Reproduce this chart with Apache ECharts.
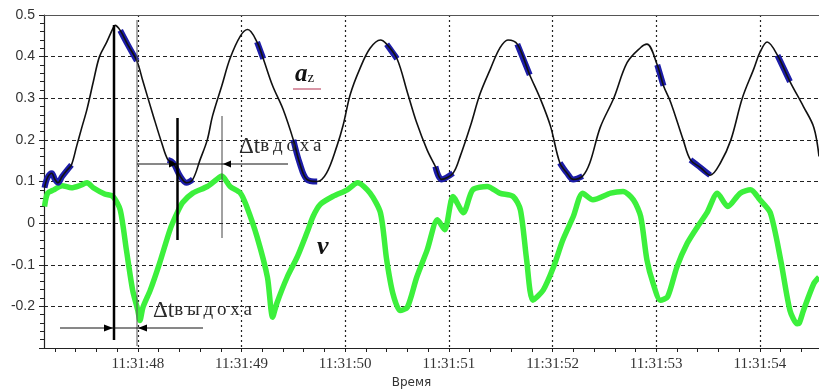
<!DOCTYPE html>
<html>
<head>
<meta charset="utf-8">
<script src="https://cdn.jsdelivr.net/npm/echarts@6/dist/echarts.min.js"></script>
<style>
html, body {margin: 0; padding: 0; background: #fff;}
#chart {width: 819px; height: 390px;}
</style>
</head>
<body>
<div id="chart"></div>
<script>
// time is in seconds of 11:31:xx
var secondTicks = [48, 49, 50, 51, 52, 53, 54];
var minorTicks = [47.2, 47.4, 47.6, 47.8, 48, 48.2, 48.4, 48.6, 48.8, 49, 49.2, 49.4, 49.6, 49.8,
    50, 50.2, 50.4, 50.6, 50.8, 51, 51.2, 51.4, 51.6, 51.8, 52, 52.2, 52.4, 52.6, 52.8,
    53, 53.2, 53.4, 53.6, 53.8, 54, 54.2, 54.4];

// a_z
var azData = [
    [47.10, 0.085], [47.13, 0.11], [47.17, 0.12], [47.20, 0.105], [47.23, 0.097], [47.27, 0.112],
    [47.32, 0.128], [47.36, 0.14], [47.41, 0.185], [47.46, 0.23], [47.51, 0.274], [47.57, 0.339],
    [47.63, 0.40], [47.70, 0.435], [47.76, 0.468], [47.78, 0.475], [47.83, 0.463], [47.90, 0.43],
    [47.99, 0.39], [48.05, 0.34], [48.15, 0.257], [48.23, 0.193], [48.29, 0.152], [48.34, 0.145],
    [48.41, 0.112], [48.47, 0.097], [48.53, 0.105], [48.60, 0.152], [48.67, 0.20], [48.72, 0.257],
    [48.81, 0.33], [48.89, 0.396], [48.99, 0.45], [49.06, 0.465], [49.15, 0.435], [49.21, 0.395],
    [49.30, 0.33], [49.40, 0.274], [49.50, 0.20], [49.56, 0.145], [49.63, 0.105], [49.73, 0.10],
    [49.82, 0.12], [49.92, 0.185], [49.98, 0.235], [50.05, 0.31], [50.14, 0.37], [50.24, 0.42],
    [50.34, 0.44], [50.40, 0.43], [50.50, 0.395], [50.60, 0.314], [50.69, 0.241], [50.79, 0.176],
    [50.87, 0.136], [50.93, 0.105], [51.04, 0.12], [51.11, 0.161], [51.21, 0.235], [51.30, 0.31],
    [51.40, 0.37], [51.49, 0.42], [51.57, 0.44], [51.66, 0.43], [51.78, 0.356], [51.88, 0.30],
    [51.98, 0.233], [52.07, 0.145], [52.14, 0.12], [52.20, 0.105], [52.29, 0.113], [52.36, 0.145],
    [52.46, 0.23], [52.59, 0.30], [52.72, 0.386], [52.85, 0.422], [52.91, 0.43], [53.01, 0.38],
    [53.07, 0.33], [53.14, 0.29], [53.26, 0.20], [53.33, 0.152], [53.43, 0.133], [53.52, 0.115],
    [53.62, 0.145], [53.72, 0.20], [53.83, 0.30], [53.94, 0.37], [54.00, 0.41], [54.07, 0.435],
    [54.17, 0.403], [54.29, 0.34], [54.42, 0.28], [54.52, 0.23], [54.57, 0.16]
];

// stretches where a_z is noisy (drawn blue)
var azNoisy = [[47.10, 47.36], [47.83, 47.99], [48.29, 48.53], [49.15, 49.21], [49.50, 49.73],
    [50.40, 50.50], [50.87, 51.04], [51.66, 51.78], [52.07, 52.29], [53.01, 53.07],
    [53.33, 53.52], [54.17, 54.29]];

// v
var vData = [
    [47.10, 0.04], [47.13, 0.072], [47.19, 0.08], [47.27, 0.09], [47.36, 0.085], [47.44, 0.09],
    [47.51, 0.097], [47.57, 0.085], [47.68, 0.07], [47.76, 0.064],
    [47.83, 0.032], [47.89, -0.065], [47.95, -0.161], [48.00, -0.21], [48.02, -0.234], [48.05, -0.202],
    [48.12, -0.161], [48.21, -0.096], [48.31, -0.016], [48.38, 0.025], [48.43, 0.049], [48.53, 0.072],
    [48.67, 0.088], [48.76, 0.105], [48.81, 0.113], [48.89, 0.088], [48.99, 0.072], [49.05, 0.04],
    [49.15, -0.033], [49.25, -0.13], [49.30, -0.226], [49.34, -0.193], [49.44, -0.13], [49.54, -0.08],
    [49.63, -0.024], [49.69, 0.016], [49.76, 0.045], [49.88, 0.064], [50.02, 0.08], [50.12, 0.097],
    [50.24, 0.072], [50.34, 0.025], [50.40, -0.088], [50.46, -0.169], [50.53, -0.21], [50.60, -0.202],
    [50.69, -0.13], [50.79, -0.065], [50.89, 0.008], [50.96, -0.016], [51.04, 0.064], [51.14, 0.025],
    [51.23, 0.08], [51.37, 0.088], [51.49, 0.072], [51.62, 0.064], [51.69, 0.032], [51.75, -0.088],
    [51.81, -0.185], [51.91, -0.161], [52.01, -0.105], [52.10, -0.04], [52.20, 0.016], [52.29, 0.072],
    [52.39, 0.056], [52.56, 0.072], [52.68, 0.076], [52.78, 0.056], [52.85, 0.016], [52.91, -0.088],
    [52.97, -0.145], [53.04, -0.185], [53.11, -0.177], [53.20, -0.105], [53.30, -0.048], [53.40, -0.008],
    [53.49, 0.025], [53.59, 0.072], [53.69, 0.04], [53.81, 0.072], [53.91, 0.08], [54.00, 0.056],
    [54.10, 0.025], [54.20, -0.088], [54.29, -0.21], [54.36, -0.242], [54.38, -0.24],
    [54.42, -0.21], [54.52, -0.145], [54.57, -0.13]
];

var azBlue = azData.map(function (p) {
    var inside = azNoisy.some(function (r) { return p[0] >= r[0] && p[0] <= r[1]; });
    return inside ? p : [p[0], '-'];
});

var myChart = echarts.init(document.getElementById('chart'));

var tickStyle = {color: '#222', width: 1};
var textRich = {
    a: {fontFamily: 'Liberation Serif', fontSize: 23, fill: '#2a2a2a'},
    b: {fontFamily: 'Liberation Serif', fontSize: 19, fill: '#2a2a2a'}
};
var option = {
    animation: false,
    backgroundColor: '#fff',
    grid: {left: 44, right: 0, top: 15, bottom: 42, outerBoundsMode: 'none'},
    xAxis: [
        {
            type: 'value',
            position: 'bottom',
            min: 47.095,
            max: 54.57,
            axisLine: {show: true, onZero: false, lineStyle: {color: '#222', width: 1.2}},
            axisTick: {show: true, length: 4, customValues: minorTicks, lineStyle: tickStyle},
            axisLabel: {
                customValues: secondTicks,
                margin: 9,
                color: '#333',
                fontFamily: 'Liberation Serif',
                fontSize: 15,
                formatter: function (v) { return '11:31:' + v; }
            },
            splitLine: {show: false},
            name: 'Время',
            nameLocation: 'middle',
            nameGap: 27,
            nameTextStyle: {color: '#333', fontFamily: 'DejaVu Sans', fontSize: 12, padding: [0, 40, 0, 0]}
        },
        {
            type: 'value',
            position: 'top',
            min: 47.095,
            max: 54.57,
            axisLine: {show: true, onZero: false, lineStyle: {color: '#555', width: 1.2}},
            axisTick: {show: false, customValues: secondTicks},
            axisLabel: {show: false},
            splitLine: {show: true, lineStyle: {color: '#222', width: 1.2, type: [2, 3]}}
        }
    ],
    yAxis: {
        type: 'value',
        min: -0.3,
        max: 0.5,
        interval: 0.1,
        axisLine: {show: true, onZero: false, lineStyle: {color: '#222', width: 1.2}},
        axisTick: {show: true, length: 5, lineStyle: tickStyle},
        minorTick: {show: true, splitNumber: 5, length: 4, lineStyle: tickStyle},
        axisLabel: {
            margin: 9,
            color: '#333',
            fontFamily: 'Liberation Sans',
            fontSize: 14,
            formatter: function (v) { return v < -0.25 ? '' : String(+v.toFixed(1)); }
        },
        splitLine: {show: true, lineStyle: {color: '#222', width: 1.2, type: [4, 3]}}
    },
    series: [
        {
            name: 'v',
            type: 'line',
            data: vData,
            showSymbol: false,
            smooth: 0.25,
            lineStyle: {color: '#3cf03c', width: 5.5},
            z: 2
        },
        {
            name: 'az noise',
            type: 'line',
            data: azBlue,
            showSymbol: false,
            smooth: 0.35,
            connectNulls: false,
            lineStyle: {color: '#1c1ca8', width: 6},
            z: 3
        },
        {
            name: 'az',
            type: 'line',
            data: azData,
            showSymbol: false,
            smooth: 0.35,
            lineStyle: {color: '#111', width: 1.6},
            z: 4
        }
    ],
    graphic: [
        // measurement lines
        {type: 'line', z: 100, shape: {x1: 114, y1: 25, x2: 114, y2: 340}, style: {stroke: '#000', lineWidth: 2.5}},
        {type: 'line', z: 100, shape: {x1: 137, y1: 20, x2: 137, y2: 346}, style: {stroke: '#555', lineWidth: 1}},
        {type: 'line', z: 100, shape: {x1: 177.5, y1: 118, x2: 177.5, y2: 240}, style: {stroke: '#000', lineWidth: 2.5}},
        {type: 'line', z: 100, shape: {x1: 222, y1: 116, x2: 222, y2: 238}, style: {stroke: '#444', lineWidth: 1}},
        {type: 'line', z: 100, shape: {x1: 137, y1: 164, x2: 288, y2: 164}, style: {stroke: '#111', lineWidth: 1}},
        {type: 'polygon', z: 100, shape: {points: [[169, 160.5], [177, 164], [169, 167.5]]}, style: {fill: '#000'}},
        {type: 'polygon', z: 100, shape: {points: [[231, 160.5], [223, 164], [231, 167.5]]}, style: {fill: '#000'}},
        {type: 'line', z: 100, shape: {x1: 60, y1: 328, x2: 203, y2: 328}, style: {stroke: '#111', lineWidth: 1}},
        {type: 'polygon', z: 100, shape: {points: [[104, 324.5], [113, 328], [104, 331.5]]}, style: {fill: '#000'}},
        {type: 'polygon', z: 100, shape: {points: [[147, 324.5], [138, 328], [147, 331.5]]}, style: {fill: '#000'}},
        // labels (letters are spaced out as in the original)
        {type: 'text', z: 100, x: 239, y: 135, style: {text: '{a|Δt}{b|в\u2009д\u2009о\u2009х\u2009а}', rich: textRich}},
        {type: 'text', z: 100, x: 153, y: 299, style: {text: '{a|Δt}{b|в\u2009ы\u2009д\u2009о\u2009х\u2009а}', rich: textRich}},
        {
            type: 'text', z: 100, x: 295, y: 62,
            style: {
                text: '{a|a}{b|z}',
                rich: {
                    a: {fontFamily: 'Liberation Serif', fontSize: 25, fontWeight: 'bold', fontStyle: 'italic', fill: '#111'},
                    b: {fontFamily: 'Liberation Serif', fontSize: 15, fill: '#111', padding: [7, 0, 0, 0]}
                }
            }
        },
        {type: 'line', z: 100, shape: {x1: 293, y1: 89, x2: 321, y2: 89}, style: {stroke: '#c0506a', lineWidth: 1.2}},
        {
            type: 'text', z: 100, x: 317, y: 234,
            style: {text: 'v', fontFamily: 'Liberation Serif', fontSize: 26, fontWeight: 'bold', fontStyle: 'italic', fill: '#111'}
        }
    ]
};
myChart.setOption(option);
</script>
</body>
</html>
